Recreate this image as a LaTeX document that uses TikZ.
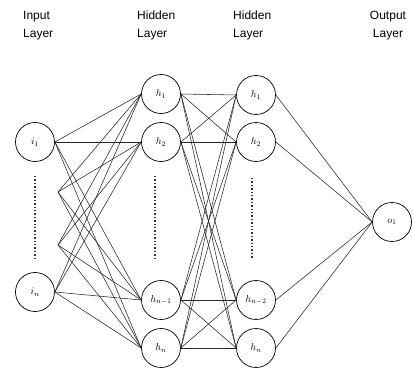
\documentclass[tikz,border=0pt]{standalone}
\usepackage{fontspec}
\setsansfont{Liberation Sans}
\tikzset{
  neuron/.style={circle, draw, line width=0.7pt, minimum size=39pt, inner sep=0pt, font=\normalsize},
  link/.style={line width=0.55pt, black!85},
  layertext/.style={font=\sffamily\fontsize{12}{18}\selectfont, align=left, anchor=north west, inner sep=0pt},
  dotcol/.style={line width=1.4pt, dotted, black!80}
}
\begin{document}
\begin{tikzpicture}[x=1pt, y=-1pt]
    \useasboundingbox (0,0) rectangle (413,369);

    \node[layertext] (tin) at (23,11) {Input\\Layer};
    \node[layertext] (th1) at (137,11) {Hidden\\Layer};
    \node[layertext] (th2) at (233,11) {Hidden\\Layer};
    \node[layertext, align=center, anchor=north] (tout) at (388,11) {Output\\Layer};

    \node[neuron] (i1) at (35,142) {$i_1$};
    \node[neuron] (in) at (35,292) {$i_n$};

    \node[neuron] (a1) at (161,94) {$h_1$};
    \node[neuron] (a2) at (161,142) {$h_2$};
    \node[neuron] (a3) at (161,300) {$h_{n-1}$};
    \node[neuron] (a4) at (161,348) {$h_n$};

    \node[neuron] (b1) at (256,95) {$h_1$};
    \node[neuron] (b2) at (256,142) {$h_2$};
    \node[neuron] (b3) at (256,300) {$h_{n-2}$};
    \node[neuron] (b4) at (256,348) {$h_n$};

    \node[neuron] (o1) at (392,222) {$o_1$};

    \coordinate (k1) at (58,192);
    \coordinate (k2) at (58,245);

    \draw[dotcol] (35,176) -- (35,258);
    \draw[dotcol] (155,176) -- (155,258);
    \draw[dotcol] (252,178) -- (252,258);

    \foreach \a in {a1,a2,a3,a4} {
      \draw[link] (i1.east) -- (\a.west);
      \draw[link] (in.east) -- (\a.west);
      \draw[link] (k1) -- (\a.west);
      \draw[link] (k2) -- (\a.west);
      \foreach \b in {b1,b2,b3,b4}
        \draw[link] (\a.east) -- (\b.west);
    }
    \foreach \b in {b1,b2,b3,b4}
      \draw[link] (\b.east) -- (o1.west);
  \end{tikzpicture}
\end{document}
